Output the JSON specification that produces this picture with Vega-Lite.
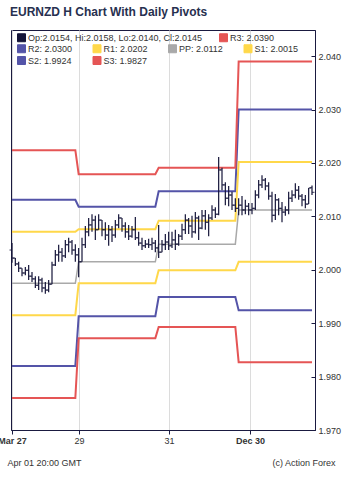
{
"$schema": "https://vega.github.io/schema/vega-lite/v6.json",
"width": 304, "height": 400,
"autosize": {"type": "none"},
"padding": {"left": 11, "top": 30, "right": 35, "bottom": 51},
"background": "white",
"title": {"text": "EURNZD H Chart With Daily Pivots", "anchor": "start", "frame": "group", "fontSize": 12, "fontWeight": "bold", "font": "Liberation Sans", "color": "#27304f", "offset": 11, "dx": -1},
"config": {"font": "Liberation Sans", "view": {"stroke": "#1a1a40", "strokeWidth": 1}},
"datasets": {
"bars": [
{"t":0.3,"o":2.0037,"h":2.0050,"l":2.0013,"c":2.0022},
{"t":1.3,"o":2.0022,"h":2.0022,"l":2.0007,"c":2.0011},
{"t":2.3,"o":2.0011,"h":2.0015,"l":1.9996,"c":2.0003},
{"t":3.3,"o":2.0003,"h":2.0003,"l":1.9988,"c":1.9994},
{"t":4.3,"o":1.9994,"h":2.0005,"l":1.9990,"c":1.9999},
{"t":5.3,"o":1.9999,"h":2.0009,"l":1.9981,"c":1.9988},
{"t":6.3,"o":1.9988,"h":1.9996,"l":1.9977,"c":1.9983},
{"t":7.3,"o":1.9983,"h":1.9988,"l":1.9966,"c":1.9971},
{"t":8.3,"o":1.9971,"h":1.9988,"l":1.9962,"c":1.9981},
{"t":9.3,"o":1.9981,"h":1.9985,"l":1.9958,"c":1.9966},
{"t":10.3,"o":1.9966,"h":1.9977,"l":1.9955,"c":1.9962},
{"t":11.3,"o":1.9962,"h":1.9981,"l":1.9958,"c":1.9973},
{"t":12.3,"o":1.9973,"h":2.0015,"l":1.9973,"c":2.0009},
{"t":13.3,"o":2.0009,"h":2.0037,"l":2.0007,"c":2.0028},
{"t":14.3,"o":2.0028,"h":2.0047,"l":2.0015,"c":2.0033},
{"t":15.3,"o":2.0033,"h":2.0041,"l":2.0015,"c":2.0026},
{"t":16.3,"o":2.0026,"h":2.0056,"l":2.0022,"c":2.0047},
{"t":17.3,"o":2.0047,"h":2.0060,"l":2.0033,"c":2.0052},
{"t":18.3,"o":2.0052,"h":2.0056,"l":2.0028,"c":2.0037},
{"t":19.3,"o":2.0037,"h":2.0048,"l":2.0015,"c":2.0028},
{"t":20.3,"o":2.0028,"h":2.0041,"l":1.9986,"c":2.0015},
{"t":21.3,"o":2.0015,"h":2.0060,"l":2.0015,"c":2.0047},
{"t":22.3,"o":2.0047,"h":2.0082,"l":2.0041,"c":2.0071},
{"t":23.3,"o":2.0071,"h":2.0097,"l":2.0063,"c":2.0084},
{"t":24.3,"o":2.0084,"h":2.0104,"l":2.0071,"c":2.0093},
{"t":25.3,"o":2.0093,"h":2.0101,"l":2.0056,"c":2.0075},
{"t":26.3,"o":2.0075,"h":2.0104,"l":2.0075,"c":2.0093},
{"t":27.3,"o":2.0093,"h":2.0093,"l":2.0063,"c":2.0075},
{"t":28.3,"o":2.0075,"h":2.0089,"l":2.0056,"c":2.0065},
{"t":29.3,"o":2.0065,"h":2.0084,"l":2.0045,"c":2.0075},
{"t":30.3,"o":2.0075,"h":2.0082,"l":2.0052,"c":2.0065},
{"t":31.3,"o":2.0065,"h":2.0093,"l":2.0060,"c":2.0084},
{"t":32.3,"o":2.0084,"h":2.0104,"l":2.0078,"c":2.0097},
{"t":33.3,"o":2.0097,"h":2.0097,"l":2.0071,"c":2.0082},
{"t":34.3,"o":2.0082,"h":2.0089,"l":2.0060,"c":2.0071},
{"t":35.3,"o":2.0071,"h":2.0084,"l":2.0056,"c":2.0063},
{"t":36.3,"o":2.0063,"h":2.0082,"l":2.0060,"c":2.0075},
{"t":37.3,"o":2.0075,"h":2.0099,"l":2.0056,"c":2.0060},
{"t":38.3,"o":2.0060,"h":2.0071,"l":2.0045,"c":2.0050},
{"t":39.3,"o":2.0050,"h":2.0060,"l":2.0037,"c":2.0045},
{"t":40.3,"o":2.0045,"h":2.0056,"l":2.0041,"c":2.0048},
{"t":41.3,"o":2.0048,"h":2.0058,"l":2.0041,"c":2.0047},
{"t":42.3,"o":2.0047,"h":2.0060,"l":2.0037,"c":2.0050},
{"t":43.3,"o":2.0050,"h":2.0056,"l":2.0033,"c":2.0041},
{"t":44.3,"o":2.0041,"h":2.0084,"l":2.0022,"c":2.0033},
{"t":45.3,"o":2.0033,"h":2.0056,"l":2.0033,"c":2.0047},
{"t":46.3,"o":2.0047,"h":2.0067,"l":2.0037,"c":2.0052},
{"t":47.3,"o":2.0052,"h":2.0071,"l":2.0037,"c":2.0045},
{"t":48.3,"o":2.0045,"h":2.0071,"l":2.0041,"c":2.0056},
{"t":49.3,"o":2.0056,"h":2.0075,"l":2.0037,"c":2.0048},
{"t":50.3,"o":2.0048,"h":2.0067,"l":2.0045,"c":2.0063},
{"t":51.3,"o":2.0063,"h":2.0086,"l":2.0056,"c":2.0075},
{"t":52.3,"o":2.0075,"h":2.0104,"l":2.0067,"c":2.0093},
{"t":53.3,"o":2.0093,"h":2.0097,"l":2.0067,"c":2.0082},
{"t":54.3,"o":2.0082,"h":2.0101,"l":2.0060,"c":2.0071},
{"t":55.3,"o":2.0071,"h":2.0108,"l":2.0068,"c":2.0097},
{"t":56.3,"o":2.0097,"h":2.0101,"l":2.0056,"c":2.0078},
{"t":57.3,"o":2.0078,"h":2.0112,"l":2.0076,"c":2.0101},
{"t":58.3,"o":2.0101,"h":2.0112,"l":2.0075,"c":2.0089},
{"t":59.3,"o":2.0089,"h":2.0104,"l":2.0063,"c":2.0097},
{"t":60.3,"o":2.0097,"h":2.0121,"l":2.0093,"c":2.0112},
{"t":61.3,"o":2.0112,"h":2.0117,"l":2.0097,"c":2.0104},
{"t":62.3,"o":2.0104,"h":2.0211,"l":2.0102,"c":2.0187},
{"t":63.3,"o":2.0187,"h":2.0191,"l":2.0149,"c":2.0159},
{"t":64.3,"o":2.0159,"h":2.0164,"l":2.0121,"c":2.0134},
{"t":65.3,"o":2.0134,"h":2.0157,"l":2.0119,"c":2.0140},
{"t":66.3,"o":2.0140,"h":2.0146,"l":2.0112,"c":2.0121},
{"t":67.3,"o":2.0121,"h":2.0134,"l":2.0108,"c":2.0115},
{"t":68.3,"o":2.0115,"h":2.0134,"l":2.0102,"c":2.0121},
{"t":69.3,"o":2.0121,"h":2.0138,"l":2.0102,"c":2.0112},
{"t":70.3,"o":2.0112,"h":2.0131,"l":2.0104,"c":2.0119},
{"t":71.3,"o":2.0119,"h":2.0125,"l":2.0102,"c":2.0112},
{"t":72.3,"o":2.0112,"h":2.0125,"l":2.0104,"c":2.0115},
{"t":73.3,"o":2.0115,"h":2.0149,"l":2.0112,"c":2.0140},
{"t":74.3,"o":2.0140,"h":2.0168,"l":2.0134,"c":2.0159},
{"t":75.3,"o":2.0159,"h":2.0177,"l":2.0153,"c":2.0168},
{"t":76.3,"o":2.0168,"h":2.0172,"l":2.0149,"c":2.0157},
{"t":77.3,"o":2.0157,"h":2.0164,"l":2.0131,"c":2.0138},
{"t":78.3,"o":2.0138,"h":2.0146,"l":2.0089,"c":2.0102},
{"t":79.3,"o":2.0102,"h":2.0142,"l":2.0093,"c":2.0131},
{"t":80.3,"o":2.0131,"h":2.0134,"l":2.0102,"c":2.0115},
{"t":81.3,"o":2.0115,"h":2.0127,"l":2.0089,"c":2.0108},
{"t":82.3,"o":2.0108,"h":2.0119,"l":2.0101,"c":2.0112},
{"t":83.3,"o":2.0112,"h":2.0146,"l":2.0104,"c":2.0134},
{"t":84.3,"o":2.0134,"h":2.0149,"l":2.0127,"c":2.0140},
{"t":85.3,"o":2.0140,"h":2.0162,"l":2.0134,"c":2.0149},
{"t":86.3,"o":2.0149,"h":2.0157,"l":2.0131,"c":2.0138},
{"t":87.3,"o":2.0138,"h":2.0142,"l":2.0119,"c":2.0131},
{"t":88.3,"o":2.0131,"h":2.0140,"l":2.0115,"c":2.0123},
{"t":89.3,"o":2.0123,"h":2.0153,"l":2.0123,"c":2.0153},
{"t":90.3,"o":2.0154,"h":2.0158,"l":2.0140,"c":2.0145}
],
"piv": [
{"n":"R3: 2.0390","t":0.3,"v":2.0224},{"n":"R3: 2.0390","t":19.3,"v":2.0224},{"n":"R3: 2.0390","t":20.3,"v":2.0179},{"n":"R3: 2.0390","t":43.3,"v":2.0179},{"n":"R3: 2.0390","t":44.3,"v":2.0191},{"n":"R3: 2.0390","t":67.3,"v":2.0191},{"n":"R3: 2.0390","t":68.3,"v":2.0390},{"n":"R3: 2.0390","t":90.3,"v":2.0390},
{"n":"R2: 2.0300","t":0.3,"v":2.0131},{"n":"R2: 2.0300","t":19.3,"v":2.0131},{"n":"R2: 2.0300","t":20.3,"v":2.0118},{"n":"R2: 2.0300","t":43.3,"v":2.0118},{"n":"R2: 2.0300","t":44.3,"v":2.0147},{"n":"R2: 2.0300","t":67.3,"v":2.0147},{"n":"R2: 2.0300","t":68.3,"v":2.0300},{"n":"R2: 2.0300","t":90.3,"v":2.0300},
{"n":"R1: 2.0202","t":0.3,"v":2.0071},{"n":"R1: 2.0202","t":19.3,"v":2.0071},{"n":"R1: 2.0202","t":20.3,"v":2.0076},{"n":"R1: 2.0202","t":43.3,"v":2.0076},{"n":"R1: 2.0202","t":44.3,"v":2.0092},{"n":"R1: 2.0202","t":67.3,"v":2.0092},{"n":"R1: 2.0202","t":68.3,"v":2.0202},{"n":"R1: 2.0202","t":90.3,"v":2.0202},
{"n":"PP: 2.0112","t":0.3,"v":1.9975},{"n":"PP: 2.0112","t":19.3,"v":1.9975},{"n":"PP: 2.0112","t":20.3,"v":2.0015},{"n":"PP: 2.0112","t":43.3,"v":2.0015},{"n":"PP: 2.0112","t":44.3,"v":2.0048},{"n":"PP: 2.0112","t":67.3,"v":2.0048},{"n":"PP: 2.0112","t":68.3,"v":2.0112},{"n":"PP: 2.0112","t":90.3,"v":2.0112},
{"n":"S1: 2.0015","t":0.3,"v":1.9915},{"n":"S1: 2.0015","t":19.3,"v":1.9915},{"n":"S1: 2.0015","t":20.3,"v":1.9975},{"n":"S1: 2.0015","t":43.3,"v":1.9975},{"n":"S1: 2.0015","t":44.3,"v":1.9999},{"n":"S1: 2.0015","t":67.3,"v":1.9999},{"n":"S1: 2.0015","t":68.3,"v":2.0015},{"n":"S1: 2.0015","t":90.3,"v":2.0015},
{"n":"S2: 1.9924","t":0.3,"v":1.9820},{"n":"S2: 1.9924","t":19.3,"v":1.9820},{"n":"S2: 1.9924","t":20.3,"v":1.9913},{"n":"S2: 1.9924","t":43.3,"v":1.9913},{"n":"S2: 1.9924","t":44.3,"v":1.9949},{"n":"S2: 1.9924","t":67.3,"v":1.9949},{"n":"S2: 1.9924","t":68.3,"v":1.9924},{"n":"S2: 1.9924","t":90.3,"v":1.9924},
{"n":"S3: 1.9827","t":0.3,"v":1.9760},{"n":"S3: 1.9827","t":19.3,"v":1.9760},{"n":"S3: 1.9827","t":20.3,"v":1.9872},{"n":"S3: 1.9827","t":43.3,"v":1.9872},{"n":"S3: 1.9827","t":44.3,"v":1.9893},{"n":"S3: 1.9827","t":67.3,"v":1.9893},{"n":"S3: 1.9827","t":68.3,"v":1.9827},{"n":"S3: 1.9827","t":90.3,"v":1.9827}
]
},
"encoding": {
"x": {"field": "t", "type": "quantitative", "scale": {"domain": [0, 91.2], "nice": false, "zero": false},
 "axis": {"values": [0.3, 20.4, 47.4, 71.7],
  "labelExpr": "datum.value < 1 ? 'Mar 27' : datum.value < 30 ? '29' : datum.value < 60 ? '31' : 'Dec 30'",
  "labelFontWeight": {"condition": {"test": "datum.value < 1 || datum.value > 60", "value": "bold"}, "value": "normal"},
  "grid": true, "gridColor": "#dcdcdc", "gridWidth": 1, "tickSize": 4, "tickColor": "#1a1a40", "domainColor": "#1a1a40",
  "labelFontSize": 9, "labelColor": "#333333", "labelPadding": 2, "labelFlush": false, "labelOverlap": false, "labelBound": false,
  "title": "Apr 01 20:00 GMT", "titleX": -4, "titleY": 32, "titleAlign": "left", "titleBaseline": "middle", "titleAngle": 0,
  "titleFontSize": 9, "titleFontWeight": "normal", "titleColor": "#333333"}}
},
"layer": [
{
 "data": {"name": "piv"},
 "transform": [{"filter": "datum.n !== 'R3: 2.0390' && datum.n !== 'PP: 2.0112'"}],
 "mark": {"type": "line", "interpolate": "linear", "strokeWidth": 2},
 "encoding": {
  "y": {"field": "v", "type": "quantitative", "scale": {"domain": [1.97, 2.0449], "nice": false, "zero": false},
   "axis": {"orient": "right", "values": [1.970,1.975,1.980,1.985,1.990,1.995,2.000,2.005,2.010,2.015,2.020,2.025,2.030,2.035,2.040],
    "format": ".3f", "grid": false, "tickSize": -4, "tickColor": "#1a1a40", "domainColor": "#1a1a40",
    "labelFontSize": 9, "labelColor": "#333333", "labelPadding": 7, "labelFlush": false, "labelOverlap": false, "labelBound": false,
    "title": "(c) Action Forex", "titleAngle": 0, "titleAlign": "right", "titleBaseline": "middle", "titleX": 20, "titleY": 432,
    "titleFontSize": 9, "titleFontWeight": "normal", "titleColor": "#333333"}},
  "stroke": {"field": "n", "type": "nominal", "title": null,
   "scale": {"domain": ["R2: 2.0300", "R1: 2.0202", "PP: 2.0112", "S1: 2.0015", "S2: 1.9924", "S3: 1.9827"],
    "range": ["#5454a8", "#ffd84a", "#a9a9a9", "#ffd84a", "#5454a8", "#e55555"]},
   "legend": {"orient": "none", "legendX": 6, "legendY": 14, "direction": "horizontal", "columns": 4, "columnPadding": 17.5, "rowPadding": -1,
    "gridAlign": "all", "title": null, "symbolType": "square", "symbolSize": 64, "symbolStrokeWidth": 1,
    "labelFontSize": 9, "labelColor": "#333333", "labelOffset": 2, "labelLimit": 300, "padding": 0,
    "encode": {"symbols": {"update": {"fill": {"scale": "stroke", "field": "value"}, "stroke": {"value": "#222222"}, "strokeWidth": {"value": 1}, "opacity": {"value": 1}}}}}}
 }
},
{
 "data": {"name": "piv"},
 "transform": [{"filter": "datum.n === 'PP: 2.0112'"}],
 "mark": {"type": "line", "interpolate": "linear", "strokeWidth": 1.5},
 "encoding": {
  "y": {"field": "v", "type": "quantitative", "title": "(c) Action Forex"},
  "stroke": {"field": "n", "type": "nominal", "title": null}
 }
},
{
 "data": {"name": "piv"},
 "transform": [{"filter": "datum.n === 'R3: 2.0390'"}],
 "mark": {"type": "line", "interpolate": "linear", "strokeWidth": 2},
 "encoding": {
  "y": {"field": "v", "type": "quantitative", "title": "(c) Action Forex"},
  "color": {"field": "n", "type": "nominal", "title": null}
 }
},
{
 "data": {"name": "bars"},
 "mark": {"type": "rule", "strokeWidth": 1.2},
 "encoding": {
  "y": {"field": "l", "type": "quantitative", "title": "(c) Action Forex"},
  "y2": {"field": "h"},
  "color": {"datum": "Op:2.0154, Hi:2.0158, Lo:2.0140, Cl:2.0145", "type": "nominal", "title": null,
   "scale": {"domain": ["Op:2.0154, Hi:2.0158, Lo:2.0140, Cl:2.0145", "R3: 2.0390"], "range": ["#141438", "#e55555"]},
   "legend": {"orient": "none", "legendX": 6, "legendY": 3, "direction": "horizontal", "columns": 2, "columnPadding": 14,
    "title": null, "symbolType": "square", "symbolSize": 64, "symbolStrokeWidth": 1,
    "labelFontSize": 9, "labelColor": "#333333", "labelOffset": 2, "labelLimit": 300, "padding": 0,
    "encode": {"symbols": {"update": {"fill": {"scale": "color", "field": "value"}, "stroke": {"value": "#222222"}, "strokeWidth": {"value": 1}, "opacity": {"value": 1}}}}}}
 }
},
{
 "data": {"name": "bars"},
 "mark": {"type": "tick", "orient": "horizontal", "size": 2.5, "thickness": 1.2, "xOffset": -1.25},
 "encoding": {
  "y": {"field": "o", "type": "quantitative", "title": "(c) Action Forex"},
  "color": {"datum": "Op:2.0154, Hi:2.0158, Lo:2.0140, Cl:2.0145", "type": "nominal", "title": null}
 }
},
{
 "data": {"name": "bars"},
 "mark": {"type": "tick", "orient": "horizontal", "size": 2.5, "thickness": 1.2, "xOffset": 1.25},
 "encoding": {
  "y": {"field": "c", "type": "quantitative", "title": "(c) Action Forex"},
  "color": {"datum": "Op:2.0154, Hi:2.0158, Lo:2.0140, Cl:2.0145", "type": "nominal", "title": null}
 }
}
]
}
